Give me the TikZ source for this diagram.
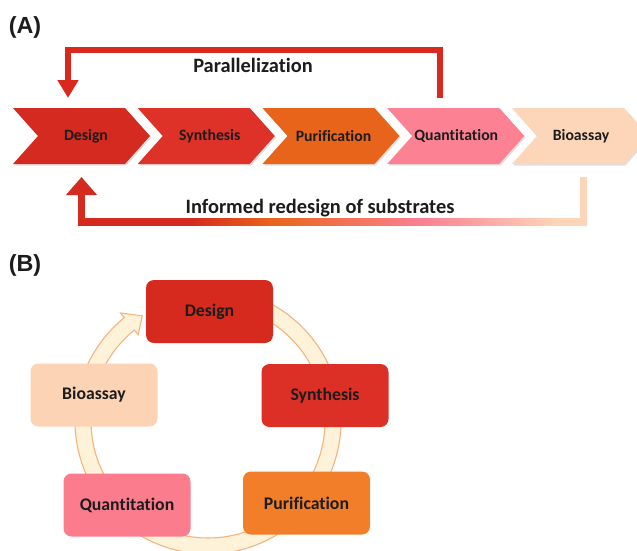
\documentclass[tikz,border=0pt]{standalone}
\usepackage{fontspec}
\setmainfont{Carlito}[Ligatures={NoCommon}]
\newfontfamily\panelfont{Liberation Sans}
\usepackage{xcolor}
\usetikzlibrary{arrows.meta}
\usetikzlibrary{shadows}

\definecolor{redArrow}{HTML}{DA291C}
\definecolor{desA}{HTML}{D42A1F}
\definecolor{synA}{HTML}{DE3127}
\definecolor{purA}{HTML}{E8641B}
\definecolor{quaA}{HTML}{FB8193}
\definecolor{bioA}{HTML}{FDD5B8}
\definecolor{desB}{HTML}{D52A1D}
\definecolor{synB}{HTML}{DC3026}
\definecolor{purB}{HTML}{F37E2A}
\definecolor{quaB}{HTML}{FB7C8C}
\definecolor{bioB}{HTML}{FDD3B5}
\definecolor{ringFill}{HTML}{FEF2D8}
\definecolor{ringLine}{HTML}{F6B27A}
\definecolor{ink}{HTML}{1C1C1C}

\pgfdeclarehorizontalshading{redesign}{100bp}{color(0bp)=(desA); color(36bp)=(desA);
  color(44bp)=(purA); color(59bp)=(quaA); color(72bp)=(bioA); color(100bp)=(bioA)}

\tikzset{
  chev/.style={drop shadow={shadow xshift=1pt, shadow yshift=-1.2pt, opacity=.25}},
  chevtext/.style={text=ink, font=\bfseries\fontsize{11.8}{14}\selectfont},
  title/.style={text=ink, font=\bfseries\fontsize{15.3}{18}\selectfont},
  panel/.style={text=ink, font=\panelfont\bfseries\fontsize{17.5}{20}\selectfont},
  cycbox/.style={rounded corners=6pt, minimum width=95.25pt, minimum height=47.25pt,
    text=ink, font=\bfseries\fontsize{13.3}{16}\selectfont},
  loopline/.style={redArrow, line width=4.5pt},
}

\begin{document}
\begin{tikzpicture}[x=0.75pt, y=-0.75pt]
\useasboundingbox (0,0) rectangle (637,551);

% (A) linear workflow
\node[panel] (pA) at (25,27) {(A)};
\foreach \n/\x/\c/\t/\dx in {design/13/desA/Design/73, synth/137.75/synA/Synthesis/72,
    purif/262.5/purA/Purification/71, quant/387.25/quaA/Quantitation/69,
    bioas/512/bioA/Bioassay/69} {
  \fill[chev, \c] (\x,108) -- ++(112,0) -- ++(25,28) -- ++(-25,28) -- ++(-112,0)
    -- ++(25,-28) -- cycle;
  \node[chevtext] (\n) at (\x+\dx,136) {\t};
}
\coordinate (quaOut) at (440,98);
\coordinate (desTop) at (68,98);
\draw[loopline, -{Triangle[width=15pt,length=13.5pt]}] (quaOut) -- ++(0,-48) -| (desTop);
\node[title] (par) at (253,65) {Parallelization};

\coordinate (bioOut) at (583.5,177);
\coordinate (desIn) at (81.5,177);
\shade[shading=redesign] (78,218.5) rectangle (587,225.5);
\draw[bioA, line width=5.25pt] (bioOut) -- ++(0,48.5);
\draw[desA, line width=5.25pt, -{Triangle[width=22.5pt,length=13.5pt]}] (desIn) ++(0,48.5) -- (desIn);
\node[title] (redes) at (320,208) {Informed redesign of substrates};

% (B) cycle
\node[panel] (pB) at (25,265) {(B)};
\coordinate (ring) at (208,421);
\begin{scope}[shift={(ring)}]
  \filldraw[fill=ringFill, draw=ringLine, line width=0.8pt]
    (-70:133) arc[start angle=-70, end angle=231, radius=133] -- (231:139) -- (238:124)
    -- (231:111) -- (231:117) arc[start angle=231, end angle=-70, radius=117] -- cycle;
\end{scope}
\node[cycbox, fill=desB] (cdes) at (209.5,311.5) {Design};
\node[cycbox, fill=synB] (csyn) at (325,395.5) {Synthesis};
\node[cycbox, fill=purB] (cpur) at (306.5,503) {Purification};
\node[cycbox, fill=quaB] (cqua) at (127,505) {Quantitation};
\node[cycbox, fill=bioB] (cbio) at (94,395) {Bioassay};
\end{tikzpicture}
\end{document}
